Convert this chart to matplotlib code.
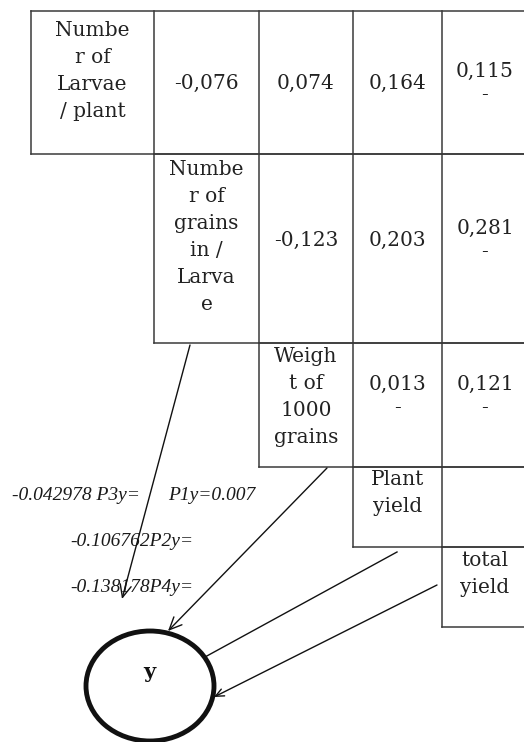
import matplotlib.pyplot as plt
from matplotlib.patches import Ellipse

# table content (row i starts in column i)
row_labels = ["Numbe\nr of\nLarvae\n/ plant",
              "Numbe\nr of\ngrains\nin /\nLarva\ne",
              "Weigh\nt of\n1000\ngrains",
              "Plant\nyield",
              "total\nyield"]
row_values = [["-0,076", "0,074", "0,164", "0,115\n-"],
              ["-0,123", "0,203", "0,281\n-"],
              ["0,013\n-", "0,121\n-"],
              [""],
              []]

# path coefficients written next to the arrows
path_labels = ["-0.042978 P3y=", "P1y=0.007", "-0.106762P2y=", "-0.138178P4y="]
result_label = "y"

# layout (pixels, origin top-left)
col_x = [31, 154, 259, 353, 442, 560]
row_y = [11, 154, 343, 467, 547, 627]
label_top = [21, 160, 347, 470, 551]
value_y = [83, 240, 396, 507, 587]
label_pos = [(12, 495), (168, 495), (70, 542), (70, 588)]
arrows = [((190, 345), (122, 599), 0.9),
          ((327, 468), (168, 631), 0.9),
          ((397, 552), (205, 657), 0),
          ((437, 585), (214, 697), 0.6)]

fig = plt.figure(figsize=(5.24, 7.42), dpi=100)
ax = fig.add_axes([0, 0, 1, 1])
ax.set_xlim(0, 524)
ax.set_ylim(742, 0)
ax.axis("off")

lc = "#3a3a3a"
right = 528
for i, lab in enumerate(row_labels):
    x0 = col_x[i]
    top, bot = row_y[i], row_y[i + 1]
    ax.plot([x0, col_x[-1]], [top, top], color=lc, lw=1.1)
    ax.plot([x0, col_x[-1]], [bot, bot], color=lc, lw=1.1)
    for j in range(i, len(col_x) - 1):
        ax.plot([col_x[j], col_x[j]], [top, bot], color=lc, lw=1.1)
    ax.text((col_x[i] + min(col_x[i + 1], right)) / 2, label_top[i], lab, ha="center", va="top",
            family="DejaVu Serif", fontsize=14.5, linespacing=1.53, color="#222222")
    for k, v in enumerate(row_values[i]):
        c = i + 1 + k
        ax.text((col_x[c] + min(col_x[c + 1], right)) / 2, value_y[i], v, ha="center", va="center",
                family="DejaVu Serif", fontsize=14.5, linespacing=1.3, color="#222222")

for (x, y), t in zip(label_pos, path_labels):
    ax.text(x, y, t, ha="left", va="center", family="Liberation Serif", style="italic",
            fontsize=14, color="#1a1a1a")

for start, end, hl in arrows:
    if hl:
        ax.annotate("", xy=end, xytext=start,
                    arrowprops=dict(arrowstyle="->,head_length=%s,head_width=%s" % (hl, hl * 0.45),
                                    color="#111111", lw=1.0, shrinkA=0, shrinkB=0))
    else:
        ax.plot([start[0], end[0]], [start[1], end[1]], color="#111111", lw=1.0)

ax.add_patch(Ellipse((150, 686), 128, 110, fill=False, lw=3.5, ec="#111111", zorder=5))
ax.text(149, 672, result_label, ha="center", va="center", family="DejaVu Serif",
        fontweight="bold", fontsize=15, color="#111111")

plt.savefig("out.png", dpi=100)
